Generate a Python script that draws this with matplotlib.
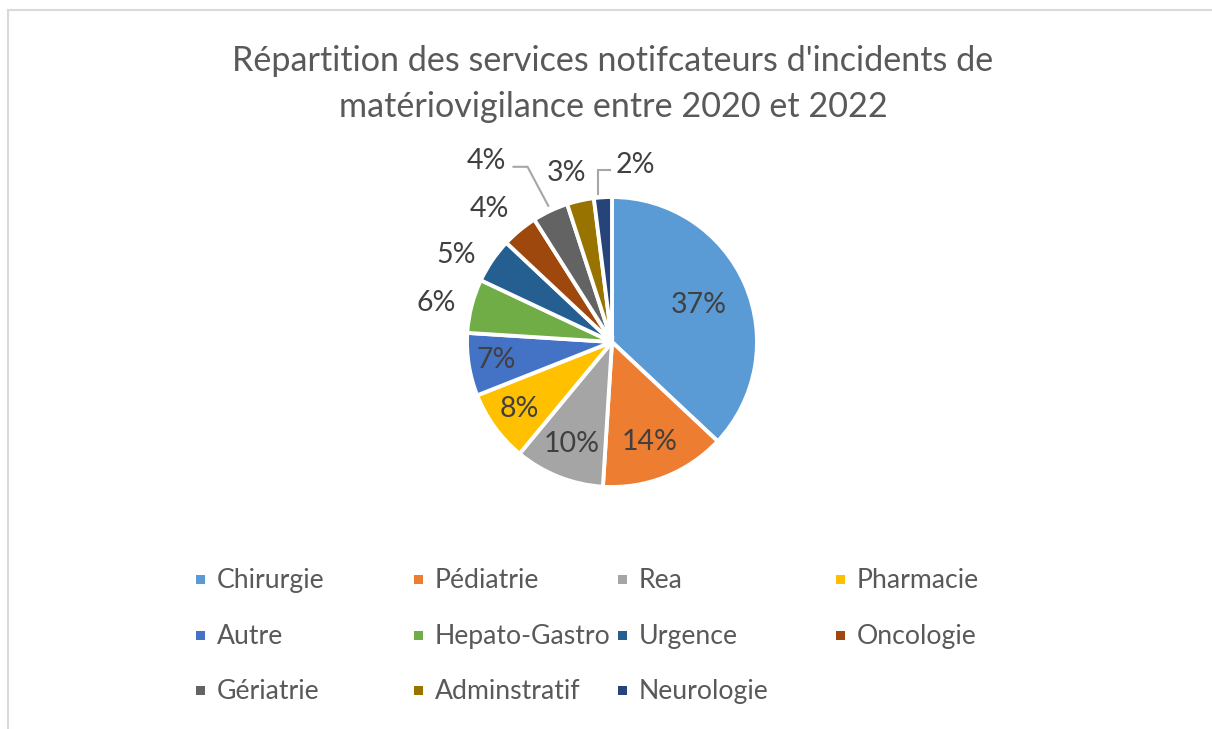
import matplotlib
matplotlib.use("Agg")
import matplotlib.pyplot as plt
import numpy as np
from matplotlib.patches import Rectangle

categories = ["Chirurgie", "Pédiatrie", "Rea", "Pharmacie", "Autre", "Hepato-Gastro",
              "Urgence", "Oncologie", "Gériatrie", "Adminstratif", "Neurologie"]
values = [37, 14, 10, 8, 7, 6, 5, 4, 4, 3, 2]
labels = ["37%", "14%", "10%", "8%", "7%", "6%", "5%", "4%", "4%", "3%", "2%"]
colors = ["#5B9BD5", "#ED7D31", "#A5A5A5", "#FFC000", "#4472C4", "#70AD47",
          "#255E91", "#9E480E", "#636363", "#997300", "#264478"]
title = "Répartition des services notifcateurs d'incidents de\nmatériovigilance entre 2020 et 2022"

W, H = 1212, 729
FONT = "Lato"
fig = plt.figure(figsize=(W / 100, H / 100), dpi=100)
ax = fig.add_axes([0, 0, 1, 1])

def Y(y):
    return H - y

cx, cy, R = 612, 342, 145
wedges, _ = ax.pie(values, colors=colors, startangle=90, counterclock=False,
                   center=(cx, Y(cy)), radius=R,
                   wedgeprops=dict(edgecolor="white", linewidth=2.8))
ax.set_xlim(0, W)
ax.set_ylim(0, H)
ax.set_aspect("auto")
ax.axis("off")

# frame
ax.add_patch(Rectangle((8, Y(740)), W + 20, 730, fill=False, edgecolor="#D9D9D9", linewidth=1.5))

# title
ax.text(613, Y(84), title, ha="center", va="center", fontsize=24.6, color="#595959",
        family=FONT, linespacing=1.55)

# data labels: (radius factor, angle offset in degrees)
label_layout = [(0.65, 0.0), (0.74, -1.0), (0.76, 0.0), (0.79, 0.0), (0.81, 0.0),
                (1.24, 2.0), (1.23, 5.0), (1.25, 3.0), (1.52, 9.5), (1.21, 2.5), (1.23, -11.0)]
cum = np.cumsum([0] + values[:-1])
total = sum(values)
for i, (v, lab) in enumerate(zip(values, labels)):
    mid = 90 - 360 * (cum[i] + v / 2) / total
    rf, off = label_layout[i]
    a = np.deg2rad(mid + off)
    x = cx + rf * R * np.cos(a)
    y = Y(cy) + rf * R * np.sin(a)
    ax.text(x, y, lab, ha="center", va="center", fontsize=20.5, color="#404040", family=FONT)
    if i == 8 or i == 10:
        am = np.deg2rad(mid)
        ex = cx + R * np.cos(am)
        ey = Y(cy) + R * np.sin(am)
        if i == 8:
            xs = [x + 27, x + 41, ex - 2]
            ys = [y - 6, y - 6, ey + 5]
        else:
            xs = [x - 25, x - 37, x - 37]
            ys = [y - 5, y - 5, ey + 3]
        ax.plot(xs, ys, color="#A6A6A6", linewidth=1.5, solid_joinstyle="miter")

# legend
col_x = [200, 418, 622, 840]
row_y = [579, 635, 690]
for i, (name, c) in enumerate(zip(categories, colors)):
    r, k = divmod(i, 4)
    x0, y0 = col_x[k], row_y[r]
    ax.add_patch(Rectangle((x0 - 4.5, Y(y0) - 4.5), 9, 9, facecolor=c, edgecolor="none"))
    ax.text(x0 + 17, Y(y0) - 1.5, name, ha="left", va="center", fontsize=19.2,
            color="#595959", family=FONT)

fig.savefig("out.png", dpi=100, facecolor="white")
